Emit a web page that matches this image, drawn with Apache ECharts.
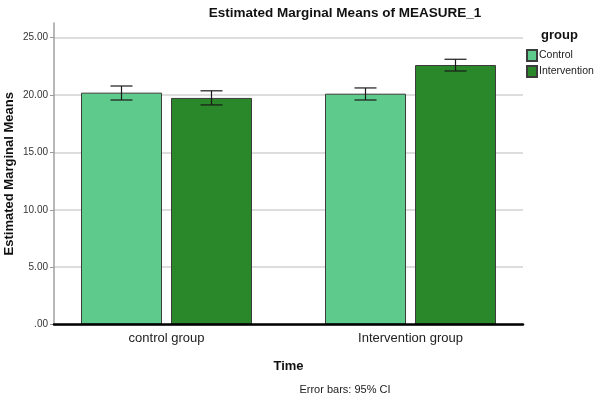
<!DOCTYPE html>
<html><head><meta charset="utf-8">
<script src="https://cdn.jsdelivr.net/npm/echarts@6/dist/echarts.min.js"></script>
<style>html,body{margin:0;padding:0;background:#fff}#c{width:595px;height:395px}</style>
</head><body><div id="c"></div>
<script>
const categories = ['control group', 'Intervention group'];
const groups = ['Control', 'Intervention'];
const controlMeans = [20.21, 20.12];
const interventionMeans = [19.75, 22.62];
const controlLower = [19.57, 19.57];
const controlUpper = [20.79, 20.62];
const interventionLower = [19.14, 22.10];
const interventionUpper = [20.37, 23.12];
const yTicks = [0, 5, 10, 15, 20, 25];

const FONT = '"Liberation Sans", Arial, sans-serif';
const BAR_W = 81, BAR_GAP = 9;
const colors = ['#5ecb8c', '#2a872a'];

const errData = [];
categories.forEach((c, i) => {
  errData.push([i, controlLower[i], controlUpper[i], 0]);
  errData.push([i, interventionLower[i], interventionUpper[i], 1]);
});

const chart = echarts.init(document.getElementById('c'), null, {renderer: 'canvas'});
chart.setOption({
  animation: false,
  backgroundColor: '#fff',
  textStyle: {fontFamily: FONT},
  title: [
    {text: 'Estimated Marginal Means of MEASURE_1', left: 345, top: 6, textAlign: 'center', padding: 0,
     textStyle: {fontFamily: FONT, fontSize: 13.5, fontWeight: 'bold', color: '#111'}},
    {text: 'group', left: 541, top: 29, padding: 0,
     textStyle: {fontFamily: FONT, fontSize: 13, fontWeight: 'bold', color: '#111'}},
    {text: 'Error bars: 95% CI', left: 345, top: 384, textAlign: 'center', padding: 0,
     textStyle: {fontFamily: FONT, fontSize: 11, fontWeight: 'normal', color: '#222'}}
  ],
  legend: {
    orient: 'vertical', left: 526, top: 49, itemWidth: 10, itemHeight: 11, itemGap: 3,
    icon: 'rect', padding: 0,
    textStyle: {fontFamily: FONT, fontSize: 10.5, color: '#222', padding: [0, 0, 0, -3]},
    data: groups
  },
  grid: [
    {left: 44.5, right: 62.5, top: 37.7, bottom: 70.5, outerBoundsMode: 'none', containLabel: false},
    {left: 54, right: 72, top: 37.7, bottom: 70.5, outerBoundsMode: 'none', containLabel: false},
    {left: 54, right: 72, top: 23, bottom: 70.5, outerBoundsMode: 'none', containLabel: false}
  ],
  xAxis: [
    {type: 'category', gridIndex: 0, data: categories,
     axisLine: {show: false}, axisTick: {show: false},
     axisLabel: {fontFamily: FONT, fontSize: 13, color: '#222', margin: 7},
     name: 'Time', nameLocation: 'middle', nameGap: 35,
     nameTextStyle: {fontFamily: FONT, fontSize: 13, fontWeight: 'bold', color: '#111'}},
    {type: 'category', gridIndex: 1, data: categories, z: 5,
     axisLine: {show: true, onZero: false, lineStyle: {color: '#000', width: 2.5}},
     axisTick: {show: false}, axisLabel: {show: false}},
    {type: 'category', gridIndex: 2, data: categories, show: false}
  ],
  yAxis: [
    {type: 'value', gridIndex: 0, min: 0, max: 25, interval: 5, show: false},
    {type: 'value', gridIndex: 1, min: 0, max: 25, interval: 5,
     axisLine: {show: false, onZero: false},
     axisTick: {show: true, length: 4, lineStyle: {color: '#999'}},
     axisLabel: {fontFamily: FONT, fontSize: 10, color: '#333', margin: 6,
                 formatter: v => yTicks.includes(v) ? (v === 0 ? '.00' : v.toFixed(2)) : ''},
     splitLine: {show: true, lineStyle: {color: '#d2d2d2', width: 1.5}}},
    {type: 'value', gridIndex: 2, min: 0, max: 1,
     axisLine: {show: true, onZero: false, lineStyle: {color: '#a0a0a0', width: 1.5}},
     axisTick: {show: false}, axisLabel: {show: false}, splitLine: {show: false},
     name: 'Estimated Marginal Means', nameLocation: 'middle', nameGap: 38,
     nameTextStyle: {fontFamily: FONT, fontSize: 13, fontWeight: 'bold', color: '#111'}}
  ],
  series: [
    {name: groups[0], type: 'bar', xAxisIndex: 0, yAxisIndex: 0, data: controlMeans,
     barWidth: BAR_W, barGap: (BAR_GAP / BAR_W * 100) + '%',
     itemStyle: {color: colors[0], borderColor: '#3c3c3c', borderWidth: 1}},
    {name: groups[1], type: 'bar', xAxisIndex: 0, yAxisIndex: 0, data: interventionMeans,
     barWidth: BAR_W,
     itemStyle: {color: colors[1], borderColor: '#3c3c3c', borderWidth: 1}},
    {type: 'custom', xAxisIndex: 0, yAxisIndex: 0, data: errData, z: 10,
     encode: {x: 0, y: [1, 2]},
     renderItem: function (params, api) {
       const cat = api.value(0), lo = api.value(1), hi = api.value(2), g = api.value(3);
       const off = (g === 0 ? -1 : 1) * (BAR_W + BAR_GAP) / 2;
       const pLo = api.coord([cat, lo]), pHi = api.coord([cat, hi]);
       const x = pLo[0] + off, half = 11;
       const style = {stroke: '#1a1a1a', lineWidth: 1.2};
       return {type: 'group', children: [
         {type: 'line', shape: {x1: x, y1: pLo[1], x2: x, y2: pHi[1]}, style},
         {type: 'line', shape: {x1: x - half, y1: pLo[1], x2: x + half, y2: pLo[1]}, style},
         {type: 'line', shape: {x1: x - half, y1: pHi[1], x2: x + half, y2: pHi[1]}, style}
       ]};
     }}
  ]
});
</script></body></html>
